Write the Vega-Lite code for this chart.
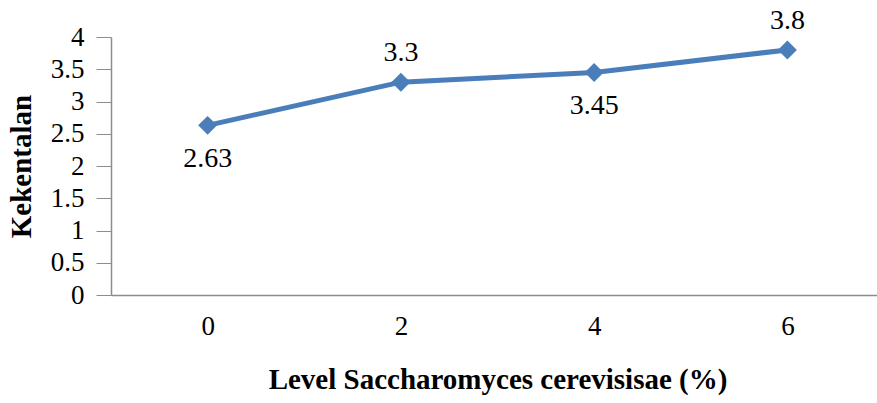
{
  "$schema": "https://vega.github.io/schema/vega-lite/v6.json",
  "width": 773,
  "height": 258,
  "autosize": {"type": "none"},
  "padding": {"left": 111, "top": 37, "right": 0, "bottom": 108},
  "background": "white",
  "config": {
    "view": {"stroke": null},
    "font": "Liberation Serif",
    "axis": {"grid": false, "labelFont": "Liberation Serif", "titleFont": "Liberation Serif", "labelColor": "black", "titleColor": "black"}
  },
  "data": {
    "values": [
      {"level": "0", "value": 2.63, "label": "2.63"},
      {"level": "2", "value": 3.3, "label": "3.3"},
      {"level": "4", "value": 3.45, "label": "3.45"},
      {"level": "6", "value": 3.8, "label": "3.8"}
    ]
  },
  "encoding": {
    "x": {
      "field": "level", "type": "ordinal", "sort": null,
      "scale": {"type": "point", "padding": 0.5},
      "axis": {
        "title": "Level Saccharomyces cerevisisae (%)",
        "titleFontSize": 29, "titleFontWeight": "bold", "titlePadding": 26,
        "labelFontSize": 27, "labelAngle": 0, "labelPadding": 18,
        "ticks": false, "domainColor": "#8c8c8c", "domainWidth": 1.5
      }
    },
    "y": {
      "field": "value", "type": "quantitative",
      "scale": {"domain": [0, 4]},
      "axis": {
        "title": "Kekentalan", "titleFontSize": 29, "titleFontWeight": "bold", "titlePadding": 14,
        "values": [0, 0.5, 1, 1.5, 2, 2.5, 3, 3.5, 4], "format": "~g",
        "labelFontSize": 27, "labelPadding": 12, "tickSize": 15,
        "tickColor": "#8c8c8c", "domainColor": "#8c8c8c", "domainWidth": 1.5
      }
    }
  },
  "layer": [
    {"mark": {"type": "line", "color": "#4a7ebb", "strokeWidth": 5}},
    {"mark": {"type": "point", "shape": "diamond", "filled": true, "size": 360, "color": "#4a7ebb", "opacity": 1}},
    {
      "transform": [{"filter": "datum.level == '0' || datum.level == '4'"}],
      "mark": {"type": "text", "fontSize": 28, "dy": 34, "color": "black"},
      "encoding": {"text": {"field": "label"}}
    },
    {
      "transform": [{"filter": "datum.level == '2' || datum.level == '6'"}],
      "mark": {"type": "text", "fontSize": 28, "dy": -29, "color": "black"},
      "encoding": {"text": {"field": "label"}}
    }
  ]
}
